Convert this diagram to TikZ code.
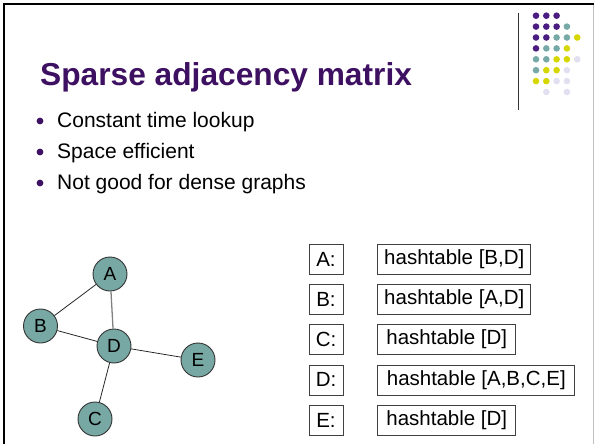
\documentclass[tikz,border=0pt]{standalone}
\usepackage{fontspec}
\setmainfont{Liberation Sans}
\usetikzlibrary{positioning}
\definecolor{titlepurple}{RGB}{62,16,98}
\definecolor{dotP}{RGB}{75,29,128}
\definecolor{dotT}{RGB}{119,170,167}
\definecolor{dotY}{RGB}{214,214,0}
\definecolor{dotL}{RGB}{226,224,240}
\definecolor{vertexteal}{RGB}{119,168,164}

\begin{document}
\begin{tikzpicture}[x=1pt, y=-1pt,
every node/.style={align=center},
vertex/.style={circle, draw=black!80, fill=vertexteal, line width=0.9pt,
  minimum size=34pt, inner sep=0pt, font=\fontsize{19}{22}\selectfont},
keybox/.style={rectangle, draw=black!75, line width=0.8pt, minimum width=34pt,
  minimum height=30pt, inner sep=0pt, font=\fontsize{20.5}{24}\selectfont},
valbox/.style={rectangle, draw=black!75, line width=0.8pt, minimum height=30pt,
  minimum width=#1, inner sep=0pt, font=\fontsize{20.5}{24}\selectfont},
item/.style={anchor=base west, inner sep=0pt, font=\fontsize{21}{25}\selectfont},
link/.style={black!85, line width=0.8pt}]

  \useasboundingbox (0,0) rectangle (594,444);

  % Slide frame
  \draw[line width=2pt] (4,444) -- (4,4) -- (594,4);
  \draw[black!25, line width=0.8pt] (593,5) -- (593,444);

  % Logo
  \draw[black!80, line width=0.8pt] (518,13) -- (518,110);
  \foreach \row [count=\r from 0] in {
      {dotP,dotP,dotP,white,white},
      {dotP,dotP,dotP,dotT,white},
      {dotP,dotP,dotT,dotT,dotY},
      {dotP,dotT,dotT,dotY,white},
      {dotT,dotT,dotY,dotY,dotL},
      {dotT,dotY,dotY,dotL,white},
      {dotY,dotY,dotL,dotL,white},
      {white,dotL,white,dotL,white}}
    \foreach \colr [count=\k from 0] in \row
      \fill[\colr] (536+10.3*\k, 15.7+10.9*\r) circle (3.3);

  % Title and bullets
  \node[anchor=base west, inner sep=0pt, text=titlepurple,
    font=\fontsize{31.7}{36}\selectfont\bfseries] (title) at (40,85) {Sparse adjacency matrix};
  \node[item] (item1) at (57,127) {Constant time lookup};
  \node[item] (item2) at (57,158) {Space efficient};
  \node[item] (item3) at (57,189) {Not good for dense graphs};
  \foreach \n in {item1,item2,item3}
    \fill[titlepurple] ([shift={(-17,-6)}]\n.base west) circle (3.4);

  % Graph
  \node[vertex] (A) at (110,274) {A};
  \node[vertex] (B) at (40.5,326) {B};
  \node[vertex] (D) at (114,346) {D};
  \node[vertex] (E) at (198,360) {E};
  \node[vertex] (C) at (95,419) {C};

  \draw[link] (A) -- (B);
  \draw[link, black!50, line width=1.3pt] (A) -- (D);
  \draw[link] (B) -- (D);
  \draw[link] (D) -- (E);
  \draw[link] (D) -- (C);

  % Hashtables
  \node[keybox] (keyA) at (326,259) {A:};
  \node[keybox, below=9.5pt of keyA] (keyB) {B:};
  \node[keybox, below=9.5pt of keyB] (keyC) {C:};
  \node[keybox, below=9.5pt of keyC] (keyD) {D:};
  \node[keybox, below=9.5pt of keyD] (keyE) {E:};

  \node[valbox=153pt, right=34pt of keyA] (valA) {hashtable [B,D]};
  \node[valbox=153pt, right=34pt of keyB] (valB) {hashtable [A,D]};
  \node[valbox=138pt, right=34pt of keyC] (valC) {hashtable [D]};
  \node[valbox=197pt, right=34pt of keyD] (valD) {hashtable [A,B,C,E]};
  \node[valbox=138pt, right=34pt of keyE] (valE) {hashtable [D]};

\end{tikzpicture}
\end{document}
